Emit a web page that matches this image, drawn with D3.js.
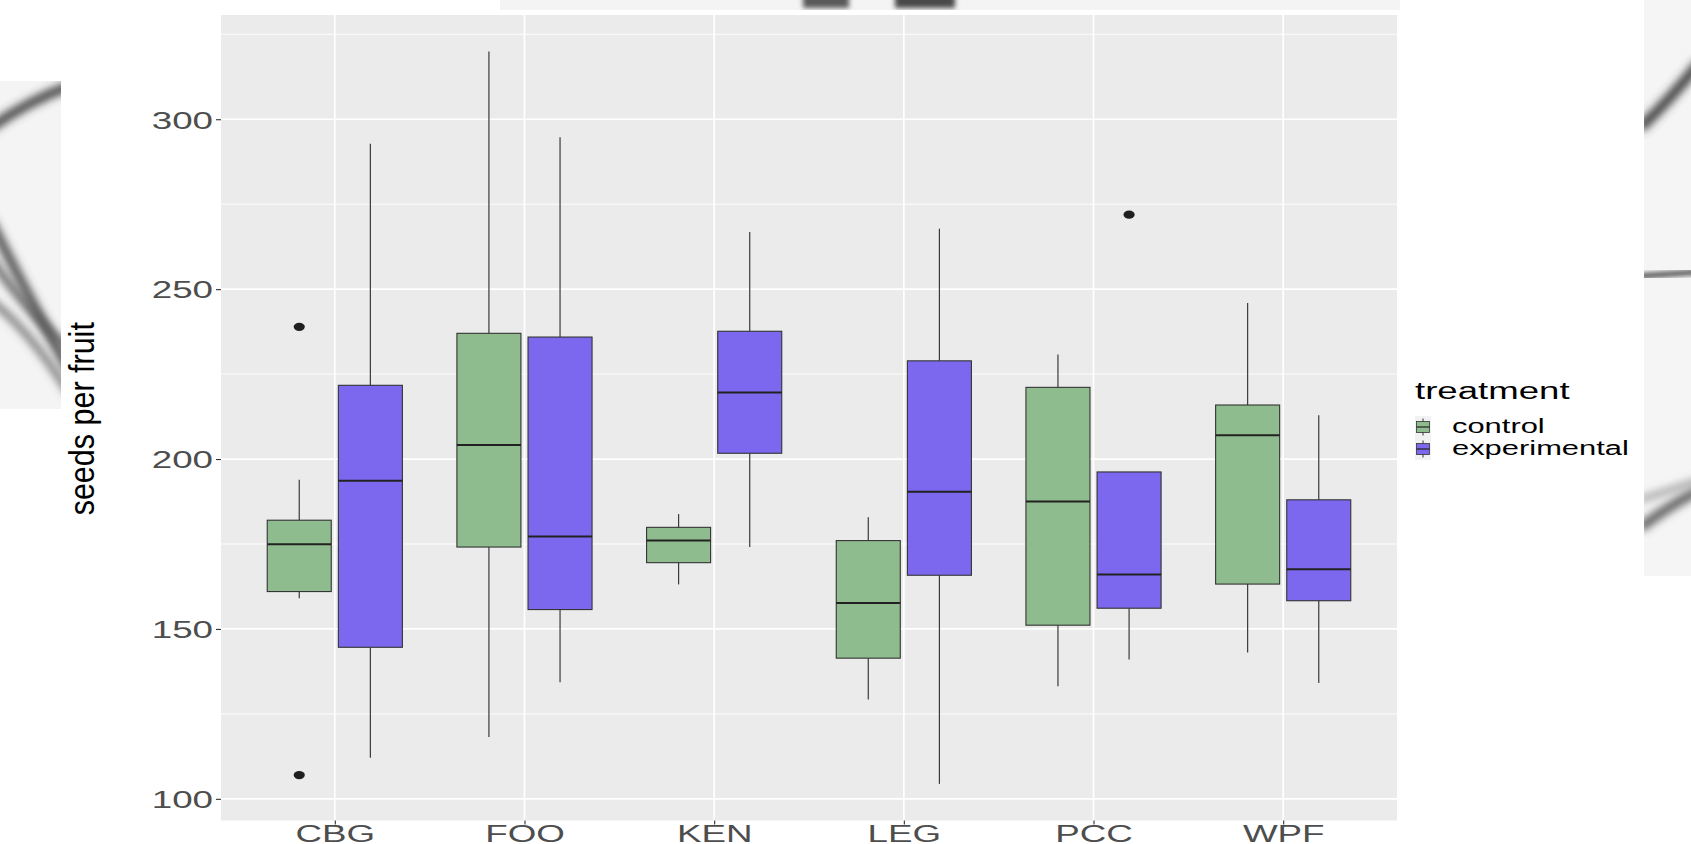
<!DOCTYPE html>
<html>
<head>
<meta charset="utf-8">
<script src="https://cdn.jsdelivr.net/npm/d3@7"></script>
<style>
  body { margin: 0; background: #ffffff; }
  svg { display: block; }
  text { font-family: "Liberation Sans", Arial, Helvetica, sans-serif; }
</style>
</head>
<body>
<svg id="chart" width="1691" height="844"></svg>
<script>
// Sites on the x axis
const categories = ["CBG", "FOO", "KEN", "LEG", "PCC", "WPF"];

// Box statistics, control treatment (whisker low, Q1, median, Q3, whisker high)
const ctrlLow  = [159.0, 118.2, 163.1, 129.2, 133.1, 143.1];
const ctrlQ1   = [161.0, 174.1, 169.5, 141.4, 151.1, 163.2];
const ctrlMed  = [174.9, 204.1, 176.0, 157.6, 187.5, 207.0];
const ctrlQ3   = [182.0, 237.0, 179.9, 176.0, 221.1, 215.9];
const ctrlHigh = [193.9, 319.9, 183.8, 182.9, 230.8, 245.9];

// Box statistics, experimental treatment
const expLow  = [112.1, 134.3, 174.1, 104.4, 141.0, 134.1];
const expQ1   = [144.6, 155.7, 201.7, 165.8, 156.1, 158.3];
const expMed  = [193.6, 177.2, 219.6, 190.4, 166.0, 167.6];
const expQ3   = [221.7, 235.9, 237.6, 228.9, 196.2, 188.0];
const expHigh = [292.8, 294.7, 266.8, 267.8, 196.2, 212.9];

// Outlying fruits
const outlierCats   = ["CBG", "CBG", "PCC"];
const outlierGroups = ["control", "control", "experimental"];
const outlierValues = [238.9, 107.0, 271.9];

// Treatments and their fills
const groups = ["control", "experimental"];
const groupColors = ["#8FBC8F", "#7B68EE"];

// Axis ticks
const yTicks = [100, 150, 200, 250, 300];
const yMinorTicks = [125, 175, 225, 275, 325];

const yTitle = "seeds per fruit";
const legendTitle = "treatment";

// ---------------------------------------------------------------------------
const W = 1691, H = 844;
const panel = { left: 221, right: 1397, top: 15, bottom: 820.5 };
const SX = 1.5; // horizontal stretch applied to labels and points

const svg = d3.select("#chart");

// soft scanned-looking shapes around the edges
const defs = svg.append("defs");
defs.append("filter").attr("id", "soft").attr("x", "-50%").attr("y", "-50%")
  .attr("width", "200%").attr("height", "200%")
  .append("feGaussianBlur").attr("stdDeviation", 4);
defs.append("filter").attr("id", "softer").attr("x", "-50%").attr("y", "-50%")
  .attr("width", "200%").attr("height", "200%")
  .append("feGaussianBlur").attr("stdDeviation", 2.5);
defs.append("clipPath").attr("id", "leftStrip")
  .append("rect").attr("x", 0).attr("y", 81).attr("width", 61).attr("height", 328);
defs.append("clipPath").attr("id", "rightStrip")
  .append("rect").attr("x", 1644).attr("y", 0).attr("width", 47).attr("height", 576);
defs.append("clipPath").attr("id", "topStrip")
  .append("rect").attr("x", 500).attr("y", 0).attr("width", 900).attr("height", 10);

const edgeL = svg.append("g").attr("clip-path", "url(#leftStrip)");
edgeL.append("rect").attr("x", 0).attr("y", 81).attr("width", 61).attr("height", 328).attr("fill", "#f4f4f4");
edgeL.append("path").attr("d", "M-10,128 Q30,100 70,86").attr("fill", "none")
  .attr("stroke", "#3a3a3a").attr("stroke-width", 9).attr("filter", "url(#soft)");
edgeL.append("path").attr("d", "M-10,220 Q30,300 70,372").attr("fill", "none")
  .attr("stroke", "#4a4a4a").attr("stroke-width", 9).attr("filter", "url(#soft)");
edgeL.append("path").attr("d", "M-10,258 Q30,315 70,350").attr("fill", "none")
  .attr("stroke", "#555", ).attr("stroke-width", 7).attr("filter", "url(#soft)");
edgeL.append("path").attr("d", "M-10,300 Q30,330 70,395").attr("fill", "none")
  .attr("stroke", "#666").attr("stroke-width", 6).attr("filter", "url(#soft)");

const edgeR = svg.append("g").attr("clip-path", "url(#rightStrip)");
edgeR.append("rect").attr("x", 1644).attr("y", 0).attr("width", 47).attr("height", 576).attr("fill", "#f5f5f5");
edgeR.append("path").attr("d", "M1640,128 Q1670,100 1700,62").attr("fill", "none")
  .attr("stroke", "#3a3a3a").attr("stroke-width", 10).attr("filter", "url(#soft)");
edgeR.append("path").attr("d", "M1640,276 L1700,272").attr("fill", "none")
  .attr("stroke", "#444").attr("stroke-width", 5).attr("filter", "url(#softer)");
edgeR.append("path").attr("d", "M1640,528 Q1670,505 1700,490").attr("fill", "none")
  .attr("stroke", "#555").attr("stroke-width", 9).attr("filter", "url(#soft)");
edgeR.append("path").attr("d", "M1640,500 Q1670,490 1700,480").attr("fill", "none")
  .attr("stroke", "#888").attr("stroke-width", 5).attr("filter", "url(#soft)");

const edgeT = svg.append("g").attr("clip-path", "url(#topStrip)");
edgeT.append("rect").attr("x", 500).attr("y", 0).attr("width", 900).attr("height", 10).attr("fill", "#f4f4f4");
edgeT.append("rect").attr("x", 803).attr("y", -6).attr("width", 46).attr("height", 14)
  .attr("fill", "#5a5a5a").attr("filter", "url(#softer)");
edgeT.append("rect").attr("x", 895).attr("y", -6).attr("width", 60).attr("height", 14)
  .attr("fill", "#4a4a4a").attr("filter", "url(#softer)");

// ---------------------------------------------------------------------------
// Scales
const allValues = [].concat(ctrlLow, ctrlHigh, expLow, expHigh, outlierValues);
const [vMin, vMax] = d3.extent(allValues);
const pad = (vMax - vMin) * 0.05;
const y = d3.scaleLinear().domain([vMin - pad, vMax + pad])
  .range([panel.bottom, panel.top]);
const x = d3.scalePoint().domain(categories)
  .range([panel.left, panel.right]).padding(0.6);
const step = x.step();
const dodge = d3.scaleBand().domain(groups).range([-0.375 * step, 0.375 * step]).paddingInner(0.1).paddingOuter(0.05);
const boxW = dodge.bandwidth();
const color = d3.scaleOrdinal().domain(groups).range(groupColors);

// Panel background and grid
svg.append("rect")
  .attr("x", panel.left).attr("y", panel.top)
  .attr("width", panel.right - panel.left).attr("height", panel.bottom - panel.top)
  .attr("fill", "#EBEBEB");

const grid = svg.append("g");
grid.selectAll("line.minor").data(yMinorTicks.filter(v => y(v) >= panel.top)).join("line")
  .attr("x1", panel.left).attr("x2", panel.right)
  .attr("y1", d => y(d)).attr("y2", d => y(d))
  .attr("stroke", "#ffffff").attr("stroke-width", 0.9);
grid.selectAll("line.major").data(yTicks).join("line")
  .attr("x1", panel.left).attr("x2", panel.right)
  .attr("y1", d => y(d)).attr("y2", d => y(d))
  .attr("stroke", "#ffffff").attr("stroke-width", 1.7);
grid.selectAll("line.vx").data(categories).join("line")
  .attr("x1", d => x(d)).attr("x2", d => x(d))
  .attr("y1", panel.top).attr("y2", panel.bottom)
  .attr("stroke", "#ffffff").attr("stroke-width", 1.7);

// Boxplots
const series = [
  { group: "control", low: ctrlLow, q1: ctrlQ1, med: ctrlMed, q3: ctrlQ3, high: ctrlHigh },
  { group: "experimental", low: expLow, q1: expQ1, med: expMed, q3: expQ3, high: expHigh }
];
const boxes = [];
series.forEach(s => categories.forEach((c, i) => boxes.push({
  cat: c, group: s.group, low: s.low[i], q1: s.q1[i], med: s.med[i], q3: s.q3[i], high: s.high[i]
})));
const cx = d => x(d.cat) + dodge(d.group) + boxW / 2;

const bx = svg.append("g").selectAll("g").data(boxes).join("g");
bx.append("line")
  .attr("x1", cx).attr("x2", cx)
  .attr("y1", d => y(d.high)).attr("y2", d => y(d.q3))
  .attr("stroke", "#3a3a3a").attr("stroke-width", 1.2);
bx.append("line")
  .attr("x1", cx).attr("x2", cx)
  .attr("y1", d => y(d.q1)).attr("y2", d => y(d.low))
  .attr("stroke", "#3a3a3a").attr("stroke-width", 1.2);
bx.append("rect")
  .attr("x", d => cx(d) - boxW / 2).attr("width", boxW)
  .attr("y", d => y(d.q3)).attr("height", d => y(d.q1) - y(d.q3))
  .attr("fill", d => color(d.group))
  .attr("stroke", "#333333").attr("stroke-width", 1.1);
bx.append("line")
  .attr("x1", d => cx(d) - boxW / 2).attr("x2", d => cx(d) + boxW / 2)
  .attr("y1", d => y(d.med)).attr("y2", d => y(d.med))
  .attr("stroke", "#222222").attr("stroke-width", 2);

// Outliers
const outliers = outlierValues.map((v, i) => ({ cat: outlierCats[i], group: outlierGroups[i], v }));
svg.append("g").selectAll("ellipse").data(outliers).join("ellipse")
  .attr("cx", d => x(d.cat) + dodge(d.group) + boxW / 2)
  .attr("cy", d => y(d.v))
  .attr("rx", 5.6).attr("ry", 4.1)
  .attr("fill", "#1f1f1f");

// Y axis
const yAxis = svg.append("g").attr("transform", `translate(${panel.left},0)`)
  .call(d3.axisLeft(y).tickValues(yTicks).tickSize(5).tickFormat(d3.format("d")));
yAxis.select(".domain").remove();
yAxis.selectAll(".tick line").attr("stroke", "#333333").attr("stroke-width", 1.1);
yAxis.selectAll(".tick text")
  .attr("x", null).attr("dy", "0.36em")
  .attr("transform", `translate(-8,0) scale(${SX},1)`)
  .attr("fill", "#4D4D4D").attr("font-size", 24.5)
  .attr("font-family", "Liberation Sans, Arial, sans-serif");

// X axis
const xAxis = svg.append("g").attr("transform", `translate(0,${panel.bottom})`)
  .call(d3.axisBottom(x).tickSize(4));
xAxis.select(".domain").remove();
xAxis.selectAll(".tick line").attr("stroke", "#333333").attr("stroke-width", 1.1);
xAxis.selectAll(".tick text")
  .attr("y", null).attr("dy", null)
  .attr("transform", `translate(0,${842 - panel.bottom}) scale(${SX},1)`)
  .attr("fill", "#4D4D4D").attr("font-size", 24.5)
  .attr("font-family", "Liberation Sans, Arial, sans-serif");

// Y title
svg.append("text")
  .attr("transform", `translate(94,${(panel.top + panel.bottom) / 2 + 1}) scale(1.12,1) rotate(-90)`)
  .attr("text-anchor", "middle")
  .attr("font-size", 30.5)
  .attr("fill", "#000000")
  .text(yTitle);

// Legend
const legend = svg.append("g");
legend.append("text")
  .attr("transform", `translate(1415,399) scale(${SX},1)`)
  .attr("font-size", 24.4).attr("fill", "#000000")
  .text(legendTitle);
const keyH = 22, keyW = 16;
const keys = legend.selectAll("g.key").data(groups).join("g")
  .attr("transform", (d, i) => `translate(1415,${416 + i * keyH})`);
keys.append("rect").attr("width", keyW).attr("height", keyH).attr("fill", "#F2F2F2");
keys.append("line")
  .attr("x1", keyW / 2).attr("x2", keyW / 2).attr("y1", 2.5).attr("y2", keyH - 2.5)
  .attr("stroke", "#333333").attr("stroke-width", 1);
keys.append("rect")
  .attr("x", 1.5).attr("y", 5.5).attr("width", keyW - 3).attr("height", keyH - 11)
  .attr("fill", d => color(d)).attr("stroke", "#333333").attr("stroke-width", 0.8);
keys.append("line")
  .attr("x1", 1.5).attr("x2", keyW - 1.5).attr("y1", keyH / 2).attr("y2", keyH / 2)
  .attr("stroke", "#222222").attr("stroke-width", 1.2);
keys.append("text")
  .attr("transform", `translate(37,${keyH / 2 + 5.8}) scale(${SX},1)`)
  .attr("font-size", 20.6).attr("fill", "#000000")
  .text(d => d);
</script>
</body>
</html>
